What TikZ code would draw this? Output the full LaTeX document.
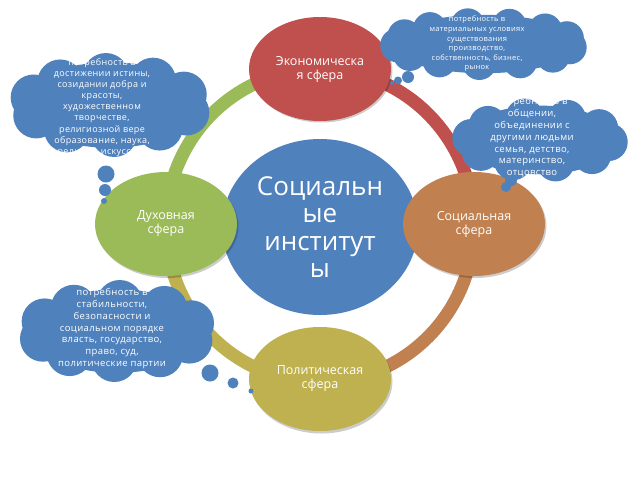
\documentclass[tikz,border=0pt]{standalone}
\usepackage{fontspec}
\setmainfont{Open Sans}
\newfontfamily\cloudfont[LetterSpace=4]{Open Sans}
\usetikzlibrary{shapes.geometric}
\definecolor{cblue}{HTML}{4F81BD}
\definecolor{cred}{HTML}{C0504D}
\definecolor{cbrown}{HTML}{C0804F}
\definecolor{colive}{HTML}{BFB14F}
\definecolor{cgreen}{HTML}{9BBB59}
% cx cy a b r n offset
\newcommand\cloudblob[7]{%
  \fill[cblue] (#1,#2) ellipse [x radius={#3-0.55*#5}, y radius={#4-0.4*#5}];
  \foreach \k in {1,...,#6}{%
    \fill[cblue] ({#1+(#3-#5)*cos(360*\k/#6+#7)},{#2+(#4-#5)*sin(360*\k/#6+#7)}) circle (#5);
  }%
}
\begin{document}
\begin{tikzpicture}[x=1pt,y=-1pt,
  sphere/.style={ellipse, minimum width=142pt, minimum height=104pt, inner sep=0pt,
    text=white, align=center, font=\fontsize{12.5}{14}\selectfont},
  shade/.style={ellipse, minimum width=142pt, minimum height=104pt, inner sep=0pt,
    fill=black, opacity=0.2},
  ringseg/.style={line width=13pt},
  cloudtext/.style={text=white, align=center, inner sep=0pt},
  bubble/.style={fill=cblue}]
\useasboundingbox (0,0) rectangle (640,480);
\fill[white] (0,0) rectangle (640,480);

% sphere anchors for the ring
\coordinate (pe) at (320,69);
\coordinate (ps) at (474,225.5);
\coordinate (pp) at (320,382);
\coordinate (pd) at (166,225.5);

% ring segments
\draw[ringseg, cred] (pe) arc[start angle=-90, end angle=0, x radius=154, y radius=156.5];
\draw[ringseg, cbrown] (ps) arc[start angle=0, end angle=90, x radius=154, y radius=156.5];
\draw[ringseg, colive] (pp) arc[start angle=90, end angle=180, x radius=154, y radius=156.5];
\draw[ringseg, cgreen] (pd) arc[start angle=180, end angle=270, x radius=154, y radius=156.5];

% central circle
\node[ellipse, fill=cblue, minimum width=196pt, minimum height=176pt, inner sep=0pt,
  text=white, align=center, font=\fontsize{26}{27.3}\selectfont] (core) at (320,227)
  {Социальн\\ые\\институт\\ы};

% shadows
\node[shade] (she) at (321.5,70.5) {};
\node[shade] (shs) at (475.5,226) {};
\node[shade] (shp) at (321.5,381.5) {};
\node[shade] (shd) at (167.5,226) {};

% spheres
\node[sphere, fill=cred] (econ) at (320,69) {Экономическа\\я сфера};
\node[sphere, fill=cbrown] (soc) at (474,224) {Социальная\\сфера};
\node[sphere, fill=colive] (pol) at (320,379) {Политическая\\сфера};
\node[sphere, fill=cgreen] (dux) at (166,224) {Духовная\\сфера};

% clouds
\cloudblob{484}{44}{104}{36}{17}{13}{10}
\cloudblob{110}{105}{102}{52}{23}{10}{15}
\cloudblob{540}{140}{88}{42}{19}{10}{5}
\cloudblob{117}{331}{100}{51}{23}{10}{20}

% bubbles
\fill[bubble] (408,77) circle (6);
\fill[bubble] (398,80.5) circle (4);
\fill[bubble] (392,83) circle (2);
\fill[bubble] (106,174) circle (8.5);
\fill[bubble] (105,190) circle (6);
\fill[bubble] (104,201) circle (3);
\fill[bubble] (210,373) circle (8.5);
\fill[bubble] (233,383) circle (5.5);
\fill[bubble] (251,391) circle (2.5);
\fill[bubble] (506,187) circle (5);
\fill[bubble] (511,180) circle (6);

% cloud texts
\node[cloudtext, font={\cloudfont\fontsize{7.5}{9.6}\selectfont}] (ttr) at (477,44)
  {потребность в\\материальных условиях\\существования\\производство,\\собственность, бизнес,\\рынок};
\node[cloudtext, font={\cloudfont\fontsize{9}{11.1}\selectfont}] (tlt) at (102,107.5)
  {потребность в\\достижении истины,\\созидании добра и\\красоты,\\художественном\\творчестве,\\религиозной вере\\образование, наука,\\религия, искусство};
\node[cloudtext, font={\cloudfont\fontsize{9.5}{11.8}\selectfont}] (tr) at (532,137.5)
  {потребность в\\общении,\\объединении с\\другими людьми\\семья, детство,\\материнство,\\отцовство};
\node[cloudtext, font={\cloudfont\fontsize{9.5}{11.8}\selectfont}] (tbl) at (112,328.5)
  {потребность в\\стабильности,\\безопасности и\\социальном порядке\\власть, государство,\\право, суд,\\политические партии};
\end{tikzpicture}
\end{document}
